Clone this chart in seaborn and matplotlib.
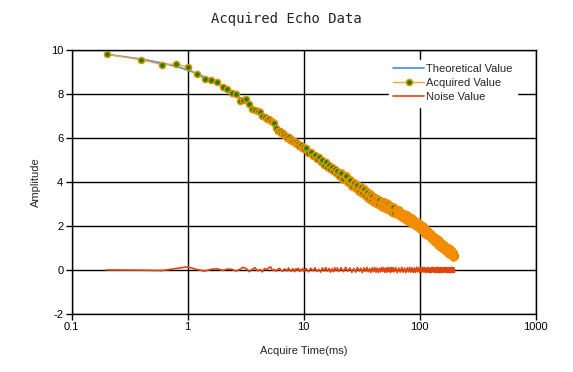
import matplotlib
matplotlib.use("Agg")
import matplotlib.pyplot as plt
import seaborn as sns

# echo times (ms) in segments
time_early = [0.2, 0.4, 0.6, 0.8, 1.0, 1.2, 1.4, 1.6, 1.8, 2.0, 2.2, 2.4, 2.6, 2.8, 3.0,
              3.2, 3.4, 3.6, 3.8, 4.0, 4.2, 4.4, 4.6, 4.8, 5.0, 5.2, 5.4, 5.6, 5.8, 6.0]
time_mid = [6.2, 6.4, 6.6, 6.8, 7.0, 7.2, 7.4, 7.6, 7.8, 8.0, 8.2, 8.4, 8.6, 8.8, 9.0,
            9.2, 9.4, 9.6, 9.8, 10,
            10.5, 11, 11.5, 12, 12.5, 13, 13.5, 14, 14.5, 15, 15.5, 16, 16.5, 17, 17.5,
            18, 18.5, 19, 19.5, 20]
time_late = [21, 22, 23, 24, 25, 26, 27, 28, 29, 30, 31, 32, 33, 34, 35, 36, 37, 38, 39, 40,
             41, 42, 43, 44, 45, 46, 47, 48, 49, 50, 51, 52, 53, 54, 55, 56, 57, 58, 59, 60,
             62, 64, 66, 68, 70, 72, 74, 76, 78, 80, 82, 84, 86, 88, 90, 92, 94, 96, 98, 100,
             102, 104, 106, 108, 110, 112, 114, 116, 118, 120, 122, 124, 126, 128, 130,
             132, 134, 136, 138, 140, 142, 144, 146, 148, 150, 152, 154, 156, 158, 160,
             162, 164, 166, 168, 170, 172, 174, 176, 178, 180, 182, 184, 186, 188, 190,
             192, 194, 196, 198, 200]

acq_early = [9.80, 9.55, 9.33, 9.35, 9.21, 8.88, 8.67, 8.65, 8.55, 8.29, 8.21, 8.03, 7.99, 7.68, 7.74,
             7.76, 7.55, 7.33, 7.27, 7.22, 7.18, 7.00, 6.95, 6.88, 6.84, 6.79, 6.70, 6.66, 6.45, 6.33]
acq_mid = [6.30, 6.22, 6.24, 6.12, 6.10, 6.00, 6.02, 5.90, 5.93, 5.84, 5.86, 5.76, 5.80, 5.70, 5.72,
           5.62, 5.66, 5.55, 5.58, 5.50,
           5.53, 5.31, 5.37, 5.16, 5.24, 5.05, 5.12, 4.91, 4.99, 4.79, 4.90, 4.70, 4.78, 4.58, 4.68,
           4.50, 4.59, 4.40, 4.48, 4.29]
acq_late = [4.40, 4.12, 4.26, 3.98, 4.10, 3.82, 3.97, 3.71, 3.88, 3.60,
            3.75, 3.49, 3.66, 3.40, 3.54, 3.27, 3.43, 3.19, 3.37, 3.10,
            3.28, 3.04, 3.23, 3.00, 3.16, 2.91, 3.09, 2.87, 3.07, 2.83,
            3.02, 2.78, 2.98, 2.75, 2.91, 2.67, 2.86, 2.64, 2.84, 2.60,
            2.77, 2.52, 2.71, 2.46, 2.61, 2.35, 2.52, 2.29, 2.48, 2.22,
            2.40, 2.15, 2.34, 2.09, 2.25, 1.99, 2.17, 1.93, 2.12, 1.87,
            2.05, 1.80, 1.99, 1.74, 1.90, 1.64, 1.82, 1.58, 1.78, 1.52,
            1.70, 1.45, 1.64, 1.39, 1.55, 1.30, 1.48, 1.26, 1.46, 1.21,
            1.39, 1.15, 1.35, 1.11, 1.27, 1.02, 1.21, 0.98, 1.18, 0.94,
            1.13, 0.90, 1.10, 0.87, 1.04, 0.80, 0.99, 0.77, 0.98, 0.74,
            0.94, 0.71, 0.91, 0.68, 0.85, 0.61, 0.80, 0.58, 0.79, 0.65]

noise_early = [0.00, -0.01, -0.03, 0.07, 0.14, 0.02, -0.05, 0.03, 0.05, -0.02, 0.04, 0.03, -0.05, 0.02, 0.12,
               0.06, -0.08, 0.03, 0.10, -0.04, 0.02, -0.09, 0.06, 0.01, 0.11, 0.13, -0.03, 0.02, -0.06, 0.04]
noise_mid = [0.07, -0.03, -0.06, 0.04, 0.02, -0.05, 0.09, -0.02, -0.07, 0.05,
             0.03, -0.08, 0.06, -0.01, 0.08, -0.06, 0.02, -0.04, 0.07, -0.05,
             0.06, -0.09, 0.08, -0.04, 0.10, -0.07, 0.03, -0.10, 0.09, -0.05,
             0.11, -0.06, 0.07, -0.10, 0.05, -0.08, 0.10, -0.04, 0.09, -0.07]
noise_late = [0.10, -0.08, 0.12, -0.06, 0.09, -0.11, 0.07, -0.10, 0.11, -0.05,
              0.08, -0.12, 0.10, -0.07, 0.12, -0.09, 0.06, -0.11, 0.10, -0.08,
              0.11, -0.10, 0.09, -0.12, 0.07, -0.09, 0.12, -0.06, 0.10, -0.11,
              0.08, -0.10, 0.12, -0.08, 0.09, -0.12, 0.11, -0.07, 0.10, -0.09,
              0.11, -0.12, 0.09, -0.10, 0.12, -0.11, 0.08, -0.12, 0.10, -0.09,
              0.12, -0.10, 0.10, -0.12, 0.09, -0.11, 0.12, -0.08, 0.11, -0.12,
              0.10, -0.11, 0.12, -0.09, 0.11, -0.12, 0.09, -0.10, 0.12, -0.11,
              0.08, -0.12, 0.11, -0.10, 0.12, -0.09, 0.10, -0.12, 0.09, -0.11,
              0.12, -0.11, 0.09, -0.12, 0.10, -0.10, 0.11, -0.12, 0.08, -0.10,
              0.11, -0.09, 0.12, -0.11, 0.10, -0.12, 0.09, -0.10, 0.11, -0.12,
              0.10, -0.12, 0.11, -0.09, 0.12, -0.11, 0.10, -0.12, 0.09, -0.08]

theo_time = [0.2, 0.4, 0.6, 0.8, 1.0, 1.2, 1.6, 2.0, 2.5, 3.0, 4.0, 5.0, 6.0, 8.0, 10,
             15, 20, 30, 40, 60, 80, 100, 130, 160, 200]
theo_value = [9.80, 9.58, 9.40, 9.25, 9.08, 8.92, 8.62, 8.35, 8.02, 7.74, 7.24, 6.82, 6.45, 5.88, 5.50,
              4.85, 4.38, 3.70, 3.20, 2.70, 2.32, 1.97, 1.45, 1.04, 0.66]

x_ticks = [0.1, 1, 10, 100, 1000]
x_tick_labels = ["0.1", "1", "10", "100", "1000"]
y_ticks = [-2, 0, 2, 4, 6, 8, 10]

echo_time = time_early + time_mid + time_late
acquired = acq_early + acq_mid + acq_late
noise = noise_early + noise_mid + noise_late

sns.set_style("white")
plt.rcParams['font.family'] = ['Liberation Sans', 'DejaVu Sans']
plt.rcParams['axes.unicode_minus'] = False

fig, ax = plt.subplots(figsize=(5.73, 3.72), dpi=100)
fig.subplots_adjust(left=0.125, right=0.935, top=0.866, bottom=0.156)
ax.set_xscale('log')

sns.lineplot(x=theo_time, y=theo_value, color='#3d8fe8', lw=1.2,
             label='Theoretical Value', ax=ax)
sns.lineplot(x=echo_time, y=acquired, color='#f5a830', lw=1, marker='o', markersize=4.4,
             markerfacecolor='#0a8a0a', markeredgecolor='#f28c00', markeredgewidth=1.1,
             label='Acquired Value', ax=ax)

# where the echoes crowd together the orange rims pile up over the green centres
n_mid = len(time_early) + len(time_mid)
n_late = n_mid + 40
sns.lineplot(x=echo_time[n_mid:n_late], y=acquired[n_mid:n_late], lw=0, marker='o',
             markersize=4.8, markerfacecolor='#0a8a0a', markeredgecolor='#f28c00',
             markeredgewidth=1.6, ax=ax)
sns.lineplot(x=echo_time[n_late:-4], y=acquired[n_late:-4], lw=0, marker='o',
             markersize=4.6, markerfacecolor='#f28c00', markeredgecolor='#f28c00',
             markeredgewidth=1.4, ax=ax)

sns.lineplot(x=echo_time, y=noise, color='#e0450f', lw=1.2, label='Noise Value', ax=ax)

ax.set_xlim(0.1, 1000)
ax.set_ylim(-2, 10)
ax.set_xticks(x_ticks)
ax.set_xticklabels(x_tick_labels)
ax.minorticks_off()
ax.set_yticks(y_ticks)
ax.grid(True, color='black', lw=1)
ax.set_axisbelow(True)
ax.tick_params(direction='out', length=4, width=1, colors='black', labelsize=8, pad=2,
               bottom=True, left=True)
for sp in ax.spines.values():
    sp.set_color('black')
    sp.set_linewidth(1)

ax.set_xlabel('Acquire Time(ms)', fontsize=8, labelpad=10)
ax.set_ylabel('Amplitude', fontsize=8, labelpad=7)
fig.text(0.5, 1 - 19 / 372, 'Acquired Echo Data', family='DejaVu Sans Mono',
         fontsize=10, ha='center', va='center')

ax.legend(loc='upper left', bbox_to_anchor=(0.683, 0.962), frameon=True, fancybox=False,
          framealpha=1, edgecolor='white', fontsize=8, handlelength=2.8,
          handletextpad=0.2, labelspacing=0.35, borderaxespad=0, borderpad=0.4)

fig.savefig('out.png', dpi=100)
